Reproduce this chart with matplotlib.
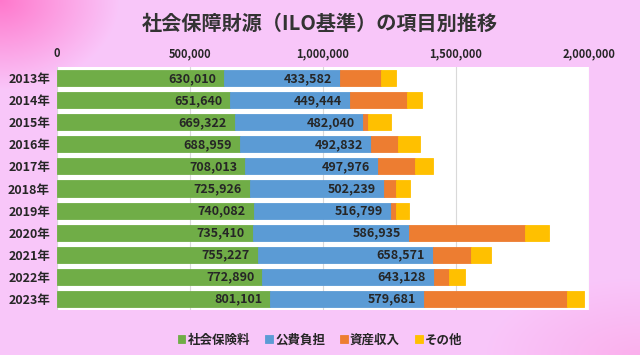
import numpy as np
import matplotlib
matplotlib.use('Agg')
import matplotlib.pyplot as plt
from matplotlib.ticker import FuncFormatter

plt.rcParams['font.family'] = ['Noto Sans CJK JP', 'DejaVu Sans']

years = ['2013年', '2014年', '2015年', '2016年', '2017年', '2018年',
         '2019年', '2020年', '2021年', '2022年', '2023年']
social_insurance = [630010, 651640, 669322, 688959, 708013, 725926,
                    740082, 735410, 755227, 772890, 801101]
public_burden = [433582, 449444, 482040, 492832, 497976, 502239,
                 516799, 586935, 658571, 643128, 579681]
asset_income = [155000, 214700, 17800, 101500, 139900, 45100,
                16400, 438300, 142600, 57700, 536500]
other = [56000, 56400, 85300, 82700, 66500, 52600,
         48800, 90300, 76400, 58900, 66500]

series = [('社会保険料', social_insurance, '#70AD47'),
          ('公費負担', public_burden, '#5B9BD5'),
          ('資産収入', asset_income, '#ED7D31'),
          ('その他', other, '#FFC000')]

fig = plt.figure(figsize=(6.4, 3.55), dpi=100)

# pink background with darker corner at top-left
bg = fig.add_axes([0, 0, 1, 1], zorder=-10)
h, w = 355, 640
yy, xx = np.mgrid[0:h, 0:w]
d = np.clip(1 - np.hypot(xx / 120.0, yy / 90.0), 0, 1)
d2 = np.clip(1 - np.hypot((w - xx) / 160.0, (h - yy) / 80.0), 0, 1) * 0.3
base = np.array([0.976, 0.78, 0.98])
dark = np.array([1.0, 0.47, 0.80])
t = np.maximum(d, d2)[..., None]
img = base * (1 - t) + dark * t
bg.imshow(img, aspect='auto', extent=[0, 1, 0, 1])
bg.axis('off')

ax = fig.add_axes([0.089, 0.127, 0.831, 0.684])
ax.set_facecolor('white')

y = np.arange(len(years))
left = np.zeros(len(years))
for name, vals, color in series:
    vals = np.array(vals)
    ax.barh(y, vals, left=left, height=0.73, color=color,
            edgecolor=color, linewidth=0.6, label=name, zorder=3)
    if name in ('社会保険料', '公費負担'):
        for yi, l, v in zip(y, left, vals):
            ax.text(l + v - 30000, yi + 0.02, f'{v:,}', ha='right', va='center',
                    fontsize=9, fontweight='bold', color='#262626', zorder=4)
    left = left + vals

ax.set_xlim(0, 2000000)
ax.set_ylim(len(years) - 0.5, -0.5)
ax.set_yticks(y)
ax.set_yticklabels(years, fontsize=9, fontweight='bold', color='#262626')
ax.set_xticks([0, 500000, 1000000, 1500000, 2000000])
ax.xaxis.set_major_formatter(FuncFormatter(lambda v, p: f'{int(v):,}'))
ax.xaxis.tick_top()
ax.tick_params(axis='x', labelsize=8, colors='#262626', length=0, pad=5)
ax.tick_params(axis='y', length=0, pad=5)
for lbl in ax.get_xticklabels():
    lbl.set_fontweight('bold')
ax.grid(axis='x', color='#D9D9D9', linewidth=0.8, zorder=0)
for s in ax.spines.values():
    s.set_visible(False)

fig.text(0.5, 0.935, '社会保障財源（ILO基準）の項目別推移', ha='center', va='center',
         fontsize=14.5, fontweight='bold', color='#333333')

leg = fig.legend(loc='center', bbox_to_anchor=(0.5, 0.042), ncol=4, frameon=False,
                 fontsize=9, handlelength=0.6, handleheight=0.6,
                 handletextpad=0.2, columnspacing=1.2)
for txt in leg.get_texts():
    txt.set_fontweight('bold')
    txt.set_color('#262626')

fig.savefig('out.png', dpi=100)
